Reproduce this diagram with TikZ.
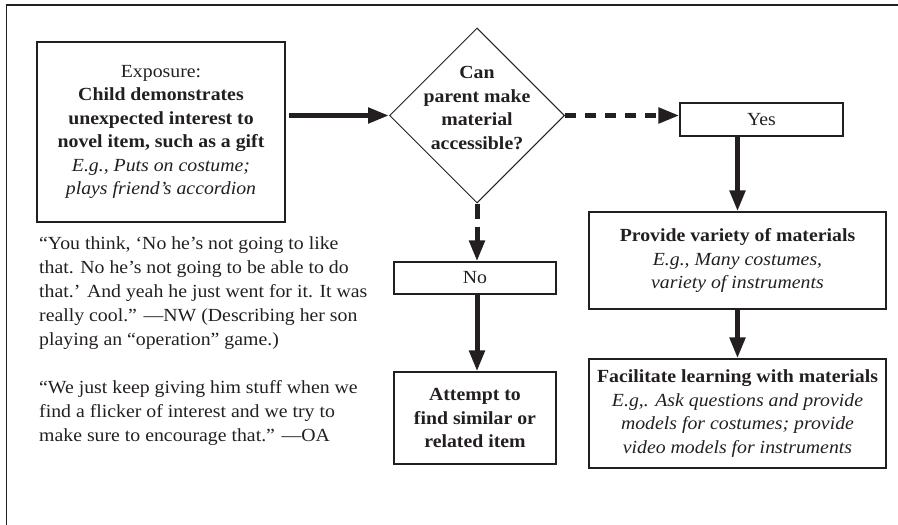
\documentclass[tikz,border=0pt]{standalone}
\usepackage{fontspec}
\setmainfont{Liberation Serif}[FakeStretch=1.07]
\usetikzlibrary{shapes.geometric,arrows.meta,calc}
\definecolor{ink}{HTML}{231F20}
\begin{document}
\begin{tikzpicture}[x=1pt,y=-1pt,
  every node/.style={text=ink, font=\fontsize{18.5}{23.5}\selectfont},
  box/.style={draw=ink, line width=1.2pt, rectangle, inner sep=0pt, align=center},
  arr/.style={draw=ink, line width=5pt, -{Triangle[length=21pt,width=15pt]}},
  dasharr/.style={arr, dash pattern=on 11pt off 9pt},
  quote/.style={anchor=north west, align=left, inner sep=0pt, font=\fontsize{18.5}{24}\selectfont}]
\useasboundingbox (0,0) rectangle (898,525);
\draw[ink, line width=1.5pt] (898,5) -- (6.5,5) -- (6.5,525);

\node[box, minimum width=248pt, minimum height=180pt] (expo) at (161,132)
  {Exposure:\\\textbf{Child demonstrates}\\\textbf{unexpected interest to}\\\textbf{novel item, such as a gift}\\\textit{E.g., Puts on costume;}\\\textit{plays friend’s accordion}};

\node[diamond, draw=ink, line width=1pt, minimum width=175pt, minimum height=175pt, inner sep=0pt] (dia) at (477,115.5) {};
\node[align=center, font=\fontsize{18.5}{23.5}\selectfont\bfseries] (diatxt) at (477,108)
  {Can\\parent make\\material\\accessible?};

\node[box, minimum width=163pt, minimum height=33pt] (yes) at (761.5,119.5) {Yes};
\node[box, minimum width=297pt, minimum height=97pt] (prov) at (737.5,260.5)
  {\textbf{Provide variety of materials}\\\textit{E.g., Many costumes,}\\\textit{variety of instruments}};
\node[box, minimum width=297pt, minimum height=109pt] (fac) at (737.5,413.5)
  {\textbf{Facilitate learning with materials}\\\textit{E.g,. Ask questions and provide}\\\textit{models for costumes; provide}\\\textit{video models for instruments}};
\node[box, minimum width=162pt, minimum height=32pt] (no) at (475,278) {No};
\node[box, minimum width=162pt, minimum height=92pt] (att) at (475,418)
  {\textbf{Attempt to}\\\textbf{find similar or}\\\textbf{related item}};

\node[quote] (q1) at (39,236.5)
  {“You think, ‘No he’s not going to like\\that. No he’s not going to be able to do\\that.’ And yeah he just went for it. It was\\really cool.” —NW (Describing her son\\playing an “operation” game.)};
\node[quote] (q2) at (39,380.5)
  {“We just keep giving him stuff when we\\find a flicker of interest and we try to\\make sure to encourage that.” —OA};

\draw[arr] ([xshift=3pt]expo.east |- dia.west) -- (dia.west);
\draw[dasharr] (dia.east) -- (dia.east -| yes.west);
\draw[arr] (prov.north |- yes.south) -- (prov.north);
\draw[arr] (prov.south) -- (fac.north);
\draw[dasharr, dash pattern=on 15pt off 8pt] (dia.south) -- (dia.south |- no.north);
\draw[arr] (no.south -| dia.south) -- (dia.south |- att.north);
\end{tikzpicture}
\end{document}
